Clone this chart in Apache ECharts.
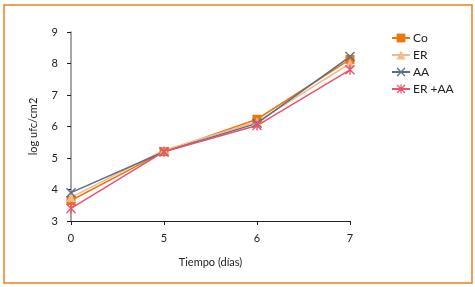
<!DOCTYPE html>
<html>
<head>
<meta charset="utf-8">
<script src="https://cdn.jsdelivr.net/npm/echarts@6/dist/echarts.min.js"></script>
<style>
  html, body { margin: 0; padding: 0; background: #fff; }
  #chart { width: 475px; height: 287px; }
</style>
</head>
<body>
<div id="chart"></div>
<script>
  var dias = ['0', '5', '6', '7'];
  var serieNames = ['Co', 'ER', 'AA', 'ER +AA'];
  var co = [3.65, 5.2, 6.23, 8.13];
  var er = [3.75, 5.25, 6.15, 8.0];
  var aa = [3.9, 5.2, 6.1, 8.22];
  var erAa = [3.4, 5.2, 6.03, 7.8];
  var yTicks = [3, 4, 5, 6, 7, 8, 9];

  // marcadores
  var cruz = 'path://M0,1L1,0L5,4L9,0L10,1L6,5L10,9L9,10L5,6L1,10L0,9L4,5Z';
  var asterisco = cruz + 'M4.3,0L5.7,0L5.7,10L4.3,10Z';

  var fuente = 'Lato';
  var chart = echarts.init(document.getElementById('chart'));

  function linea(name, data, color, symbol, size) {
    return {
      name: name,
      type: 'line',
      data: data,
      symbol: symbol,
      symbolSize: size,
      color: color,
      lineStyle: { width: 1.5, color: color },
      itemStyle: { color: color },
      animation: false
    };
  }

  chart.setOption({
    animation: false,
    textStyle: { fontFamily: fuente },
    graphic: [{
      type: 'rect',
      shape: { x: 4, y: 5, width: 468, height: 278 },
      style: { fill: 'none', stroke: '#E8821E', lineWidth: 1.5 },
      silent: true
    }],
    grid: { left: 71, right: 125, top: 32, bottom: 66 },
    legend: {
      orient: 'vertical',
      left: 386,
      top: 27,
      itemWidth: 18,
      itemHeight: 11,
      itemGap: 5,
      textStyle: { fontSize: 12, color: '#222', fontFamily: fuente, padding: [0, 0, 0, -2] },
      data: serieNames
    },
    xAxis: {
      type: 'category',
      data: dias,
      boundaryGap: false,
      name: 'Tiempo (días)',
      nameLocation: 'middle',
      nameGap: 36,
      nameTextStyle: { fontSize: 11, color: '#222', fontFamily: fuente },
      axisLine: { lineStyle: { color: '#222', width: 1.2 } },
      axisTick: { show: true, length: 4, lineStyle: { color: '#222' } },
      axisLabel: { fontSize: 11, color: '#222', margin: 12 },
      splitLine: { show: false }
    },
    yAxis: {
      type: 'value',
      min: yTicks[0],
      max: yTicks[yTicks.length - 1],
      interval: 1,
      name: 'log ufc/cm2',
      nameLocation: 'middle',
      nameGap: 32,
      nameTextStyle: { fontSize: 11, color: '#222', fontFamily: fuente },
      axisLine: { show: true, lineStyle: { color: '#888', width: 1.5 } },
      axisTick: { show: true, length: 4, lineStyle: { color: '#222' } },
      axisLabel: { fontSize: 11, color: '#222', margin: 13 },
      splitLine: { show: false }
    },
    series: [
      linea('Co', co, '#E8780F', 'rect', 9),
      linea('ER', er, '#F5B98A', 'triangle', 9),
      linea('AA', aa, '#5E6E86', cruz, 10),
      linea('ER +AA', erAa, '#E8536E', asterisco, 10)
    ]
  });
</script>
</body>
</html>
